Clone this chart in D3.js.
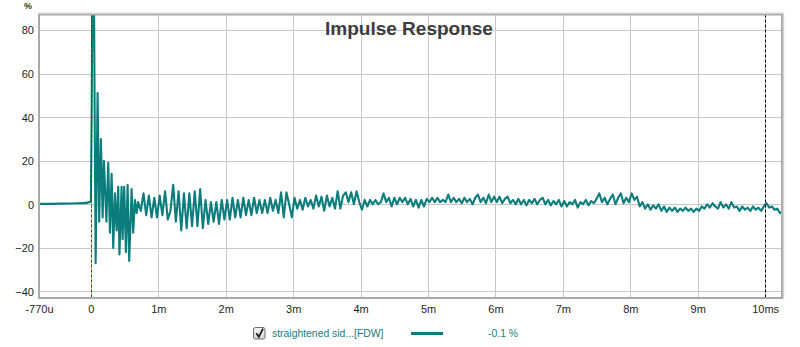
<!DOCTYPE html>
<html>
<head>
<meta charset="utf-8">
<script src="https://cdn.jsdelivr.net/npm/d3@7"></script>
<style>
  html, body { margin: 0; padding: 0; background: #ffffff; }
  svg { display: block; font-family: "Liberation Sans", Arial, sans-serif; }
</style>
</head>
<body>
<svg id="chart" width="800" height="347"></svg>
<script>
// Axis ticks
const tickMs = [-0.77, 0, 1, 2, 3, 4, 5, 6, 7, 8, 9, 10];
const tickMsLabels = ["-770u", "0", "1m", "2m", "3m", "4m", "5m", "6m", "7m", "8m", "9m", "10ms"];
const tickPct = [-40, -20, 0, 20, 40, 60, 80];

// Pre-ringing, direct arrival and early ringing: [time ms, level %]
const headSamples = [
  [-0.77, 0.2], [-0.6, 0.2], [-0.45, 0.3], [-0.3, 0.4], [-0.2, 0.5], [-0.12, 0.6],
  [-0.1, 0.5], [-0.08, 0.8], [-0.06, 0.5], [-0.04, 1.0], [-0.02, 0.8], [0.0, 1.6],
  [0.012, 45], [0.022, 100], [0.045, 100], [0.055, 45], [0.070, -27], [0.099, 51],
  [0.123, -8], [0.148, 30], [0.174, -6], [0.193, 20], [0.230, -8], [0.257, 19],
  [0.282, -13], [0.307, 14], [0.331, -20], [0.356, 5], [0.381, -12], [0.405, 8],
  [0.423, -23], [0.455, 8], [0.470, -16], [0.494, 8], [0.519, -22], [0.544, 9],
  [0.568, -26], [0.604, 7], [0.627, -13], [0.653, 2], [0.678, -4]
];

// Decay tail, sampled every 0.04 ms from 0.70 ms
const tailStartMs = 0.70;
const tailStepMs = 0.04;
const tailLevels = [
  1, -3, 5, -5, 4, -6, 3, -6,                                   // 0.70 - 0.98
  4, -5, 6, -7, -3, 9, -8, 6, -12, 5, -11, 5, -10,              // 1.02 - 1.50
  6, -10, 7, -11, 2, -9, 1, -8, 1, -9, 2, -7,                   // 1.54 - 1.98
  2, -7, 3, -6, 2, -6, 3, -5, 2, -5, 3, -4, 2,                  // 2.02 - 2.50
  -4, 2, -4, 3, -3, 2, -4, 5.5, -6, 5.5, 0, -6,                 // 2.54 - 2.98
  3, -2, 2, -2.5, 3, -1, 2, -2, 4, -1, 3.5, -3, 4,              // 3.02 - 3.50
  -1, 3, -2, 6, -2, 4, 5.5, 1, 5.5, 0, 6, 1,                    // 3.54 - 3.98
  -2.5, 2, -1, 2, 0, 2, 0, 1, 5, 1, 3, -1, 3,                   // 4.02 - 4.50
  0, 3, 1, 3, 0, 2.5, -1, 2, -1.5, 2, -1, 2.5,                  // 4.54 - 4.98
  1, 3, 1, 3, 1, 2, 1, 4.5, 1, 3, 1, 2.5, 0.5,                  // 5.02 - 5.50
  3, 1, 2.5, 0, 3, 4.5, 1, 3, 0.5, 4.5, 1, 3.5,                 // 5.54 - 5.98
  1, 3.5, 0.5, 2.5, 3.5, 0.5, 2, 0, 2.5, 0, 2, -0.5, 2,         // 6.02 - 6.50
  0.5, 2.5, 0, 2, 3, 0, 2, -0.5, 1.5, 0, 2, -1,                 // 6.54 - 6.98
  1.5, -1, 1, 0, 2, -1.5, 1, 0, 2, -0.5, 1.5, 0.5, 2.5,         // 7.02 - 7.50
  5, 1, 3, 0, 2.5, 4.5, 0, 3, 5, 0.5, 3, 1,                     // 7.54 - 7.98
  5, 2, 3.5, -1, 1, -2, 0, -2.5, -0.5, -2, 0, -3, -1,           // 8.02 - 8.50
  -3.5, -1.5, -3, -1.5, -3.5, -2, -3, -1.5, -3, -2, -3.5, -2,   // 8.54 - 8.98
  -3, -1, -2, 0, -1.5, 0.5, -1, -2, 1, -1.5, 0, -2, 1,          // 9.02 - 9.50
  -1.5, -1, -3, -1, -2.5, -1.5, -3, -1, -2.5, -1.5, -3, -1,     // 9.54 - 9.98
  0.5, -1.5, -1, -2.5, -2, -4, -3.5                             // 10.02 - 10.26
];

const markerMs = [0, 10];
const markerColors = ["#d40000", "#000000"];
const seriesName = "straightened sid...[FDW]";
const cursorReadout = "-0.1 %";
const chartTitle = "Impulse Response";

const teal = "#0b7d7d";

const samples = headSamples.concat(
  tailLevels.map((v, i) => [tailStartMs + i * tailStepMs, v])
);

const plot = { left: 39, right: 782, top: 14.5, bottom: 298 };

const svg = d3.select("#chart");

const x = d3.scaleLinear().domain([-0.77, 10.25]).range([plot.left, plot.right]);
const y = d3.scaleLinear().domain([-43, 87.1]).range([plot.bottom, plot.top]);

// grid
const grid = svg.append("g");
grid.selectAll("line.vx")
  .data(tickMs.filter(t => t > -0.77))
  .join("line")
  .attr("x1", d => Math.round(x(d)) + 0.5).attr("x2", d => Math.round(x(d)) + 0.5)
  .attr("y1", plot.top).attr("y2", plot.bottom)
  .attr("stroke", "#c8c8c8").attr("stroke-width", 1);
grid.selectAll("line.hy")
  .data(tickPct)
  .join("line")
  .attr("y1", d => Math.round(y(d)) + 0.5).attr("y2", d => Math.round(y(d)) + 0.5)
  .attr("x1", plot.left).attr("x2", plot.right)
  .attr("stroke", "#c8c8c8").attr("stroke-width", 1);

// clip
svg.append("clipPath").attr("id", "plotClip")
  .append("rect")
  .attr("x", plot.left).attr("y", plot.top)
  .attr("width", plot.right - plot.left).attr("height", plot.bottom - plot.top);

// trace
const line = d3.line().x(d => x(d[0])).y(d => y(d[1]));
svg.append("path")
  .datum(samples)
  .attr("clip-path", "url(#plotClip)")
  .attr("fill", "none")
  .attr("stroke", teal)
  .attr("stroke-width", 2.1)
  .attr("stroke-linejoin", "round")
  .attr("d", line);

// time markers
svg.selectAll("line.marker")
  .data(markerMs)
  .join("line")
  .attr("x1", d => Math.round(x(d)) + 0.5).attr("x2", d => Math.round(x(d)) + 0.5)
  .attr("y1", plot.top).attr("y2", plot.bottom)
  .attr("stroke", (d, i) => markerColors[i])
  .attr("stroke-width", 1)
  .attr("stroke-dasharray", "3,2");

// frame
svg.append("rect")
  .attr("x", plot.left).attr("y", plot.top)
  .attr("width", plot.right - plot.left).attr("height", plot.bottom - plot.top)
  .attr("fill", "none").attr("stroke", "#a9a9a9").attr("stroke-width", 2);
svg.append("line")
  .attr("x1", plot.left).attr("x2", plot.right + 2)
  .attr("y1", plot.top - 1.5).attr("y2", plot.top - 1.5)
  .attr("stroke", "#d4d4d4").attr("stroke-width", 1);
svg.append("line")
  .attr("x1", plot.right + 1.5).attr("x2", plot.right + 1.5)
  .attr("y1", plot.top - 1).attr("y2", plot.bottom + 1)
  .attr("stroke", "#d4d4d4").attr("stroke-width", 1.5);

// axes
const xAxis = d3.axisBottom(x)
  .tickValues(tickMs)
  .tickFormat((d, i) => tickMsLabels[i])
  .tickSize(0).tickPadding(0);
const gx = svg.append("g").attr("transform", `translate(0,${plot.bottom})`).call(xAxis);
gx.select(".domain").remove();
gx.selectAll("text")
  .attr("dy", null).attr("y", 15)
  .attr("font-size", 11).attr("fill", "#1e1e1e")
  .attr("font-family", "'Liberation Sans', Arial, sans-serif");

const yAxis = d3.axisLeft(y)
  .tickValues(tickPct)
  .tickSize(0).tickPadding(0);
const gy = svg.append("g").attr("transform", `translate(${plot.left - 5},0)`).call(yAxis);
gy.select(".domain").remove();
gy.selectAll("text")
  .attr("dy", "0.36em")
  .attr("font-size", 11).attr("fill", "#1e1e1e")
  .attr("font-family", "'Liberation Sans', Arial, sans-serif");

svg.append("text")
  .attr("x", 28).attr("y", 9)
  .attr("text-anchor", "middle")
  .attr("font-size", 9).attr("font-weight", "bold").attr("fill", "#333")
  .text("%");

// title
svg.append("text")
  .attr("x", 409).attr("y", 34.5)
  .attr("text-anchor", "middle")
  .attr("font-size", 19).attr("font-weight", "bold").attr("fill", "#3c3c3c")
  .text(chartTitle);

// legend
const lg = svg.append("g");
const grad = svg.append("defs").append("linearGradient")
  .attr("id", "boxGrad").attr("x1", 0).attr("y1", 0).attr("x2", 0).attr("y2", 1);
grad.append("stop").attr("offset", "0%").attr("stop-color", "#f4f4f4");
grad.append("stop").attr("offset", "100%").attr("stop-color", "#d6d6d6");
lg.append("rect")
  .attr("x", 253.5).attr("y", 327.5).attr("width", 11.5).attr("height", 11.5)
  .attr("rx", 2).attr("fill", "url(#boxGrad)").attr("stroke", "#6e6e6e");
lg.append("path")
  .attr("d", "M256.3,333.2 L258.8,336.8 L263,328.6")
  .attr("fill", "none").attr("stroke", "#1a1a1a").attr("stroke-width", 1.7);
lg.append("text")
  .attr("x", 272).attr("y", 337)
  .attr("font-size", 10.4).attr("fill", "#1b7a80")
  .text(seriesName);
lg.append("line")
  .attr("x1", 411).attr("x2", 443).attr("y1", 333.5).attr("y2", 333.5)
  .attr("stroke", teal).attr("stroke-width", 3);
lg.append("text")
  .attr("x", 488).attr("y", 337)
  .attr("font-size", 10.4).attr("fill", "#1b7a80")
  .text(cursorReadout);
</script>
</body>
</html>
